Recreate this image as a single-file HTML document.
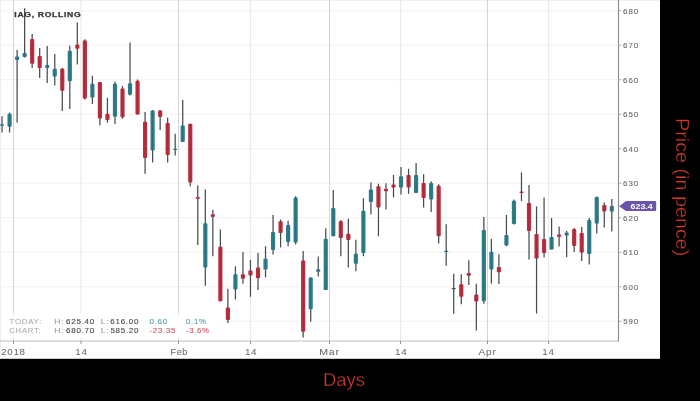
<!DOCTYPE html>
<html><head><meta charset="utf-8">
<style>
html,body{margin:0;padding:0;background:#000;width:700px;height:401px;overflow:hidden}
svg{display:block;font-family:"Liberation Sans",sans-serif}
text{-webkit-font-smoothing:antialiased}
body{will-change:transform}
</style></head>
<body>
<svg width="700" height="401" viewBox="0 0 700 401">
<rect x="0" y="0" width="700" height="401" fill="#000"/>
<rect x="0" y="0" width="660" height="358.8" fill="#fff"/>
<line x1="0" y1="0.5" x2="660" y2="0.5" stroke="#f0f0f0" stroke-width="1"/>
<line x1="0.5" y1="0" x2="0.5" y2="358.8" stroke="#ededed" stroke-width="1"/>
<line x1="0" y1="10.75" x2="618.5" y2="10.75" stroke="#f1f1f1" stroke-width="1.1"/>
<line x1="0" y1="45.25" x2="618.5" y2="45.25" stroke="#f1f1f1" stroke-width="1.1"/>
<line x1="0" y1="79.75" x2="618.5" y2="79.75" stroke="#f1f1f1" stroke-width="1.1"/>
<line x1="0" y1="114.25" x2="618.5" y2="114.25" stroke="#f1f1f1" stroke-width="1.1"/>
<line x1="0" y1="148.75" x2="618.5" y2="148.75" stroke="#f1f1f1" stroke-width="1.1"/>
<line x1="0" y1="183.25" x2="618.5" y2="183.25" stroke="#f1f1f1" stroke-width="1.1"/>
<line x1="0" y1="217.75" x2="618.5" y2="217.75" stroke="#f1f1f1" stroke-width="1.1"/>
<line x1="0" y1="252.25" x2="618.5" y2="252.25" stroke="#f1f1f1" stroke-width="1.1"/>
<line x1="0" y1="286.75" x2="618.5" y2="286.75" stroke="#f1f1f1" stroke-width="1.1"/>
<line x1="0" y1="321.25" x2="618.5" y2="321.25" stroke="#f1f1f1" stroke-width="1.1"/>
<line x1="13.5" y1="0" x2="13.5" y2="341" stroke="#d4d4d4" stroke-width="1"/>
<line x1="178.5" y1="0" x2="178.5" y2="341" stroke="#d4d4d4" stroke-width="1"/>
<line x1="329.5" y1="0" x2="329.5" y2="341" stroke="#d4d4d4" stroke-width="1"/>
<line x1="487.5" y1="0" x2="487.5" y2="341" stroke="#d4d4d4" stroke-width="1"/>
<line x1="81" y1="0" x2="81" y2="341" stroke="#eaeaea" stroke-width="1.1"/>
<line x1="250.5" y1="0" x2="250.5" y2="341" stroke="#eaeaea" stroke-width="1.1"/>
<line x1="400.5" y1="0" x2="400.5" y2="341" stroke="#eaeaea" stroke-width="1.1"/>
<line x1="548.5" y1="0" x2="548.5" y2="341" stroke="#eaeaea" stroke-width="1.1"/>
<rect x="14" y="6" width="66" height="14" fill="#fff"/>
<rect x="1" y="313.5" width="221" height="24" fill="#fff" fill-opacity="0.88"/>
<line x1="2.05" y1="116.25" x2="2.05" y2="132.5" stroke="#454d50" stroke-width="1.25"/>
<rect x="-0.05" y="124.25" width="4.2" height="1.50" rx="0.9" fill="#2f7f8b"/>
<line x1="2.05" y1="124.25" x2="2.05" y2="125.75" stroke="#000" stroke-opacity="0.12" stroke-width="1"/>
<line x1="9.58" y1="112.5" x2="9.58" y2="132.5" stroke="#454d50" stroke-width="1.25"/>
<rect x="7.48" y="113.75" width="4.2" height="13.00" rx="0.9" fill="#2f7f8b"/>
<line x1="9.58" y1="113.75" x2="9.58" y2="126.75" stroke="#000" stroke-opacity="0.12" stroke-width="1"/>
<line x1="17.11" y1="50.0" x2="17.11" y2="122.5" stroke="#454d50" stroke-width="1.25"/>
<rect x="15.01" y="56.5" width="4.2" height="3.50" rx="0.9" fill="#2f7f8b"/>
<line x1="17.11" y1="56.5" x2="17.11" y2="60.00" stroke="#000" stroke-opacity="0.12" stroke-width="1"/>
<line x1="24.63" y1="8.2" x2="24.63" y2="57.5" stroke="#454d50" stroke-width="1.25"/>
<rect x="22.53" y="53.0" width="4.2" height="4.00" rx="0.9" fill="#2f7f8b"/>
<line x1="24.63" y1="53.0" x2="24.63" y2="57.00" stroke="#000" stroke-opacity="0.12" stroke-width="1"/>
<line x1="32.16" y1="34.0" x2="32.16" y2="68.0" stroke="#454d50" stroke-width="1.25"/>
<rect x="30.06" y="39.0" width="4.2" height="24.75" rx="0.9" fill="#bb2f40"/>
<line x1="32.16" y1="39.0" x2="32.16" y2="63.75" stroke="#000" stroke-opacity="0.12" stroke-width="1"/>
<line x1="39.69" y1="48.0" x2="39.69" y2="78.0" stroke="#454d50" stroke-width="1.25"/>
<rect x="37.59" y="56.0" width="4.2" height="12.00" rx="0.9" fill="#bb2f40"/>
<line x1="39.69" y1="56.0" x2="39.69" y2="68.00" stroke="#000" stroke-opacity="0.12" stroke-width="1"/>
<line x1="47.22" y1="46.0" x2="47.22" y2="83.0" stroke="#454d50" stroke-width="1.25"/>
<rect x="45.12" y="65.0" width="4.2" height="3.00" rx="0.9" fill="#2f7f8b"/>
<line x1="47.22" y1="65.0" x2="47.22" y2="68.00" stroke="#000" stroke-opacity="0.12" stroke-width="1"/>
<line x1="54.75" y1="54.0" x2="54.75" y2="85.5" stroke="#454d50" stroke-width="1.25"/>
<rect x="52.65" y="68.75" width="4.2" height="7.75" rx="0.9" fill="#2f7f8b"/>
<line x1="54.75" y1="68.75" x2="54.75" y2="76.50" stroke="#000" stroke-opacity="0.12" stroke-width="1"/>
<line x1="62.27" y1="68.0" x2="62.27" y2="111.0" stroke="#454d50" stroke-width="1.25"/>
<rect x="60.17" y="68.75" width="4.2" height="22.00" rx="0.9" fill="#bb2f40"/>
<line x1="62.27" y1="68.75" x2="62.27" y2="90.75" stroke="#000" stroke-opacity="0.12" stroke-width="1"/>
<line x1="69.80" y1="45.75" x2="69.80" y2="109.0" stroke="#454d50" stroke-width="1.25"/>
<rect x="67.70" y="50.75" width="4.2" height="30.50" rx="0.9" fill="#2f7f8b"/>
<line x1="69.80" y1="50.75" x2="69.80" y2="81.25" stroke="#000" stroke-opacity="0.12" stroke-width="1"/>
<line x1="77.33" y1="22.6" x2="77.33" y2="64.5" stroke="#454d50" stroke-width="1.25"/>
<rect x="75.23" y="44.5" width="4.2" height="4.25" rx="0.9" fill="#bb2f40"/>
<line x1="77.33" y1="44.5" x2="77.33" y2="48.75" stroke="#000" stroke-opacity="0.12" stroke-width="1"/>
<line x1="84.86" y1="39.25" x2="84.86" y2="99.75" stroke="#454d50" stroke-width="1.25"/>
<rect x="82.76" y="40.5" width="4.2" height="58.00" rx="0.9" fill="#bb2f40"/>
<line x1="84.86" y1="40.5" x2="84.86" y2="98.50" stroke="#000" stroke-opacity="0.12" stroke-width="1"/>
<line x1="92.39" y1="75.75" x2="92.39" y2="104.0" stroke="#454d50" stroke-width="1.25"/>
<rect x="90.29" y="83.75" width="4.2" height="13.75" rx="0.9" fill="#2f7f8b"/>
<line x1="92.39" y1="83.75" x2="92.39" y2="97.50" stroke="#000" stroke-opacity="0.12" stroke-width="1"/>
<line x1="99.91" y1="82.0" x2="99.91" y2="125.25" stroke="#454d50" stroke-width="1.25"/>
<rect x="97.81" y="82.0" width="4.2" height="36.50" rx="0.9" fill="#bb2f40"/>
<line x1="99.91" y1="82.0" x2="99.91" y2="118.50" stroke="#000" stroke-opacity="0.12" stroke-width="1"/>
<line x1="107.44" y1="97.75" x2="107.44" y2="122.75" stroke="#454d50" stroke-width="1.25"/>
<rect x="105.34" y="113.75" width="4.2" height="6.25" rx="0.9" fill="#bb2f40"/>
<line x1="107.44" y1="113.75" x2="107.44" y2="120.00" stroke="#000" stroke-opacity="0.12" stroke-width="1"/>
<line x1="114.97" y1="81.5" x2="114.97" y2="124.0" stroke="#454d50" stroke-width="1.25"/>
<rect x="112.87" y="83.75" width="4.2" height="33.00" rx="0.9" fill="#2f7f8b"/>
<line x1="114.97" y1="83.75" x2="114.97" y2="116.75" stroke="#000" stroke-opacity="0.12" stroke-width="1"/>
<line x1="122.50" y1="86.0" x2="122.50" y2="118.75" stroke="#454d50" stroke-width="1.25"/>
<rect x="120.40" y="88.5" width="4.2" height="28.75" rx="0.9" fill="#bb2f40"/>
<line x1="122.50" y1="88.5" x2="122.50" y2="117.25" stroke="#000" stroke-opacity="0.12" stroke-width="1"/>
<line x1="130.03" y1="42.5" x2="130.03" y2="95.5" stroke="#454d50" stroke-width="1.25"/>
<rect x="127.93" y="83.25" width="4.2" height="11.50" rx="0.9" fill="#2f7f8b"/>
<line x1="130.03" y1="83.25" x2="130.03" y2="94.75" stroke="#000" stroke-opacity="0.12" stroke-width="1"/>
<line x1="137.55" y1="79.5" x2="137.55" y2="114.5" stroke="#454d50" stroke-width="1.25"/>
<rect x="135.45" y="80.75" width="4.2" height="33.75" rx="0.9" fill="#bb2f40"/>
<line x1="137.55" y1="80.75" x2="137.55" y2="114.50" stroke="#000" stroke-opacity="0.12" stroke-width="1"/>
<line x1="145.08" y1="112.0" x2="145.08" y2="173.75" stroke="#454d50" stroke-width="1.25"/>
<rect x="142.98" y="121.75" width="4.2" height="36.25" rx="0.9" fill="#bb2f40"/>
<line x1="145.08" y1="121.75" x2="145.08" y2="158.00" stroke="#000" stroke-opacity="0.12" stroke-width="1"/>
<line x1="152.61" y1="110.0" x2="152.61" y2="162.5" stroke="#454d50" stroke-width="1.25"/>
<rect x="150.51" y="110.5" width="4.2" height="40.00" rx="0.9" fill="#2f7f8b"/>
<line x1="152.61" y1="110.5" x2="152.61" y2="150.50" stroke="#000" stroke-opacity="0.12" stroke-width="1"/>
<line x1="160.14" y1="110.0" x2="160.14" y2="130.0" stroke="#454d50" stroke-width="1.25"/>
<rect x="158.04" y="110.5" width="4.2" height="6.50" rx="0.9" fill="#bb2f40"/>
<line x1="160.14" y1="110.5" x2="160.14" y2="117.00" stroke="#000" stroke-opacity="0.12" stroke-width="1"/>
<line x1="167.67" y1="117.5" x2="167.67" y2="162.5" stroke="#454d50" stroke-width="1.25"/>
<rect x="165.57" y="123.0" width="4.2" height="32.00" rx="0.9" fill="#bb2f40"/>
<line x1="167.67" y1="123.0" x2="167.67" y2="155.00" stroke="#000" stroke-opacity="0.12" stroke-width="1"/>
<line x1="175.19" y1="133.75" x2="175.19" y2="155.5" stroke="#454d50" stroke-width="1.25"/>
<rect x="173.09" y="148.75" width="4.2" height="1.25" rx="0.9" fill="#2f7f8b"/>
<line x1="175.19" y1="148.75" x2="175.19" y2="150.00" stroke="#000" stroke-opacity="0.12" stroke-width="1"/>
<line x1="182.72" y1="100.0" x2="182.72" y2="142.0" stroke="#454d50" stroke-width="1.25"/>
<rect x="180.62" y="125.5" width="4.2" height="16.50" rx="0.9" fill="#2f7f8b"/>
<line x1="182.72" y1="125.5" x2="182.72" y2="142.00" stroke="#000" stroke-opacity="0.12" stroke-width="1"/>
<line x1="190.25" y1="123.75" x2="190.25" y2="186.25" stroke="#454d50" stroke-width="1.25"/>
<rect x="188.15" y="123.75" width="4.2" height="58.75" rx="0.9" fill="#bb2f40"/>
<line x1="190.25" y1="123.75" x2="190.25" y2="182.50" stroke="#000" stroke-opacity="0.12" stroke-width="1"/>
<line x1="197.78" y1="185.5" x2="197.78" y2="245.0" stroke="#454d50" stroke-width="1.25"/>
<rect x="195.68" y="197.0" width="4.2" height="1.75" rx="0.9" fill="#bb2f40"/>
<line x1="197.78" y1="197.0" x2="197.78" y2="198.75" stroke="#000" stroke-opacity="0.12" stroke-width="1"/>
<line x1="205.31" y1="189.5" x2="205.31" y2="285.75" stroke="#454d50" stroke-width="1.25"/>
<rect x="203.21" y="223.25" width="4.2" height="44.25" rx="0.9" fill="#2f7f8b"/>
<line x1="205.31" y1="223.25" x2="205.31" y2="267.50" stroke="#000" stroke-opacity="0.12" stroke-width="1"/>
<line x1="212.83" y1="210.0" x2="212.83" y2="256.25" stroke="#454d50" stroke-width="1.25"/>
<rect x="210.73" y="214.25" width="4.2" height="2.75" rx="0.9" fill="#bb2f40"/>
<line x1="212.83" y1="214.25" x2="212.83" y2="217.00" stroke="#000" stroke-opacity="0.12" stroke-width="1"/>
<line x1="220.36" y1="229.5" x2="220.36" y2="301.25" stroke="#454d50" stroke-width="1.25"/>
<rect x="218.26" y="246.75" width="4.2" height="54.50" rx="0.9" fill="#bb2f40"/>
<line x1="220.36" y1="246.75" x2="220.36" y2="301.25" stroke="#000" stroke-opacity="0.12" stroke-width="1"/>
<line x1="227.89" y1="288.75" x2="227.89" y2="323.0" stroke="#454d50" stroke-width="1.25"/>
<rect x="225.79" y="307.5" width="4.2" height="12.50" rx="0.9" fill="#bb2f40"/>
<line x1="227.89" y1="307.5" x2="227.89" y2="320.00" stroke="#000" stroke-opacity="0.12" stroke-width="1"/>
<line x1="235.42" y1="266.25" x2="235.42" y2="299.5" stroke="#454d50" stroke-width="1.25"/>
<rect x="233.32" y="274.25" width="4.2" height="15.25" rx="0.9" fill="#2f7f8b"/>
<line x1="235.42" y1="274.25" x2="235.42" y2="289.50" stroke="#000" stroke-opacity="0.12" stroke-width="1"/>
<line x1="242.95" y1="252.0" x2="242.95" y2="283.75" stroke="#454d50" stroke-width="1.25"/>
<rect x="240.85" y="274.25" width="4.2" height="4.50" rx="0.9" fill="#bb2f40"/>
<line x1="242.95" y1="274.25" x2="242.95" y2="278.75" stroke="#000" stroke-opacity="0.12" stroke-width="1"/>
<line x1="250.47" y1="260.0" x2="250.47" y2="296.75" stroke="#454d50" stroke-width="1.25"/>
<rect x="248.37" y="270.5" width="4.2" height="5.00" rx="0.9" fill="#bb2f40"/>
<line x1="250.47" y1="270.5" x2="250.47" y2="275.50" stroke="#000" stroke-opacity="0.12" stroke-width="1"/>
<line x1="258.00" y1="253.0" x2="258.00" y2="290.0" stroke="#454d50" stroke-width="1.25"/>
<rect x="255.90" y="267.5" width="4.2" height="10.75" rx="0.9" fill="#bb2f40"/>
<line x1="258.00" y1="267.5" x2="258.00" y2="278.25" stroke="#000" stroke-opacity="0.12" stroke-width="1"/>
<line x1="265.53" y1="246.25" x2="265.53" y2="277.5" stroke="#454d50" stroke-width="1.25"/>
<rect x="263.43" y="258.75" width="4.2" height="10.75" rx="0.9" fill="#2f7f8b"/>
<line x1="265.53" y1="258.75" x2="265.53" y2="269.50" stroke="#000" stroke-opacity="0.12" stroke-width="1"/>
<line x1="273.06" y1="215.0" x2="273.06" y2="254.5" stroke="#454d50" stroke-width="1.25"/>
<rect x="270.96" y="232.0" width="4.2" height="18.00" rx="0.9" fill="#2f7f8b"/>
<line x1="273.06" y1="232.0" x2="273.06" y2="250.00" stroke="#000" stroke-opacity="0.12" stroke-width="1"/>
<line x1="280.59" y1="219.5" x2="280.59" y2="247.5" stroke="#454d50" stroke-width="1.25"/>
<rect x="278.49" y="221.25" width="4.2" height="11.75" rx="0.9" fill="#bb2f40"/>
<line x1="280.59" y1="221.25" x2="280.59" y2="233.00" stroke="#000" stroke-opacity="0.12" stroke-width="1"/>
<line x1="288.11" y1="220.75" x2="288.11" y2="246.25" stroke="#454d50" stroke-width="1.25"/>
<rect x="286.01" y="225.0" width="4.2" height="17.00" rx="0.9" fill="#2f7f8b"/>
<line x1="288.11" y1="225.0" x2="288.11" y2="242.00" stroke="#000" stroke-opacity="0.12" stroke-width="1"/>
<line x1="295.64" y1="196.25" x2="295.64" y2="244.5" stroke="#454d50" stroke-width="1.25"/>
<rect x="293.54" y="197.5" width="4.2" height="45.00" rx="0.9" fill="#2f7f8b"/>
<line x1="295.64" y1="197.5" x2="295.64" y2="242.50" stroke="#000" stroke-opacity="0.12" stroke-width="1"/>
<line x1="303.17" y1="251.0" x2="303.17" y2="337.5" stroke="#454d50" stroke-width="1.25"/>
<rect x="301.07" y="260.5" width="4.2" height="71.25" rx="0.9" fill="#bb2f40"/>
<line x1="303.17" y1="260.5" x2="303.17" y2="331.75" stroke="#000" stroke-opacity="0.12" stroke-width="1"/>
<line x1="310.70" y1="277.5" x2="310.70" y2="321.75" stroke="#454d50" stroke-width="1.25"/>
<rect x="308.60" y="277.5" width="4.2" height="31.75" rx="0.9" fill="#2f7f8b"/>
<line x1="310.70" y1="277.5" x2="310.70" y2="309.25" stroke="#000" stroke-opacity="0.12" stroke-width="1"/>
<line x1="318.23" y1="256.5" x2="318.23" y2="276.5" stroke="#454d50" stroke-width="1.25"/>
<rect x="316.13" y="269.25" width="4.2" height="2.50" rx="0.9" fill="#2f7f8b"/>
<line x1="318.23" y1="269.25" x2="318.23" y2="271.75" stroke="#000" stroke-opacity="0.12" stroke-width="1"/>
<line x1="325.75" y1="228.25" x2="325.75" y2="290.0" stroke="#454d50" stroke-width="1.25"/>
<rect x="323.65" y="238.75" width="4.2" height="51.25" rx="0.9" fill="#2f7f8b"/>
<line x1="325.75" y1="238.75" x2="325.75" y2="290.00" stroke="#000" stroke-opacity="0.12" stroke-width="1"/>
<line x1="333.28" y1="190.0" x2="333.28" y2="236.25" stroke="#454d50" stroke-width="1.25"/>
<rect x="331.18" y="208.0" width="4.2" height="28.25" rx="0.9" fill="#2f7f8b"/>
<line x1="333.28" y1="208.0" x2="333.28" y2="236.25" stroke="#000" stroke-opacity="0.12" stroke-width="1"/>
<line x1="340.81" y1="220.0" x2="340.81" y2="256.25" stroke="#454d50" stroke-width="1.25"/>
<rect x="338.71" y="221.25" width="4.2" height="16.75" rx="0.9" fill="#bb2f40"/>
<line x1="340.81" y1="221.25" x2="340.81" y2="238.00" stroke="#000" stroke-opacity="0.12" stroke-width="1"/>
<line x1="348.34" y1="218.75" x2="348.34" y2="267.5" stroke="#454d50" stroke-width="1.25"/>
<rect x="346.24" y="233.75" width="4.2" height="6.25" rx="0.9" fill="#bb2f40"/>
<line x1="348.34" y1="233.75" x2="348.34" y2="240.00" stroke="#000" stroke-opacity="0.12" stroke-width="1"/>
<line x1="355.87" y1="239.75" x2="355.87" y2="271.25" stroke="#454d50" stroke-width="1.25"/>
<rect x="353.77" y="253.75" width="4.2" height="10.00" rx="0.9" fill="#2f7f8b"/>
<line x1="355.87" y1="253.75" x2="355.87" y2="263.75" stroke="#000" stroke-opacity="0.12" stroke-width="1"/>
<line x1="363.39" y1="198.25" x2="363.39" y2="256.25" stroke="#454d50" stroke-width="1.25"/>
<rect x="361.29" y="210.75" width="4.2" height="42.25" rx="0.9" fill="#2f7f8b"/>
<line x1="363.39" y1="210.75" x2="363.39" y2="253.00" stroke="#000" stroke-opacity="0.12" stroke-width="1"/>
<line x1="370.92" y1="182.5" x2="370.92" y2="214.5" stroke="#454d50" stroke-width="1.25"/>
<rect x="368.82" y="189.5" width="4.2" height="12.50" rx="0.9" fill="#2f7f8b"/>
<line x1="370.92" y1="189.5" x2="370.92" y2="202.00" stroke="#000" stroke-opacity="0.12" stroke-width="1"/>
<line x1="378.45" y1="183.75" x2="378.45" y2="236.25" stroke="#454d50" stroke-width="1.25"/>
<rect x="376.35" y="186.25" width="4.2" height="21.25" rx="0.9" fill="#bb2f40"/>
<line x1="378.45" y1="186.25" x2="378.45" y2="207.50" stroke="#000" stroke-opacity="0.12" stroke-width="1"/>
<line x1="385.98" y1="183.25" x2="385.98" y2="209.5" stroke="#454d50" stroke-width="1.25"/>
<rect x="383.88" y="188.75" width="4.2" height="2.50" rx="0.9" fill="#bb2f40"/>
<line x1="385.98" y1="188.75" x2="385.98" y2="191.25" stroke="#000" stroke-opacity="0.12" stroke-width="1"/>
<line x1="393.51" y1="175.0" x2="393.51" y2="197.5" stroke="#454d50" stroke-width="1.25"/>
<rect x="391.41" y="184.5" width="4.2" height="3.00" rx="0.9" fill="#bb2f40"/>
<line x1="393.51" y1="184.5" x2="393.51" y2="187.50" stroke="#000" stroke-opacity="0.12" stroke-width="1"/>
<line x1="401.03" y1="167.0" x2="401.03" y2="194.5" stroke="#454d50" stroke-width="1.25"/>
<rect x="398.93" y="176.25" width="4.2" height="11.25" rx="0.9" fill="#2f7f8b"/>
<line x1="401.03" y1="176.25" x2="401.03" y2="187.50" stroke="#000" stroke-opacity="0.12" stroke-width="1"/>
<line x1="408.56" y1="168.75" x2="408.56" y2="193.75" stroke="#454d50" stroke-width="1.25"/>
<rect x="406.46" y="175.0" width="4.2" height="12.50" rx="0.9" fill="#bb2f40"/>
<line x1="408.56" y1="175.0" x2="408.56" y2="187.50" stroke="#000" stroke-opacity="0.12" stroke-width="1"/>
<line x1="416.09" y1="163.0" x2="416.09" y2="193.0" stroke="#454d50" stroke-width="1.25"/>
<rect x="413.99" y="175.0" width="4.2" height="18.00" rx="0.9" fill="#2f7f8b"/>
<line x1="416.09" y1="175.0" x2="416.09" y2="193.00" stroke="#000" stroke-opacity="0.12" stroke-width="1"/>
<line x1="423.62" y1="174.25" x2="423.62" y2="207.5" stroke="#454d50" stroke-width="1.25"/>
<rect x="421.52" y="183.0" width="4.2" height="15.00" rx="0.9" fill="#bb2f40"/>
<line x1="423.62" y1="183.0" x2="423.62" y2="198.00" stroke="#000" stroke-opacity="0.12" stroke-width="1"/>
<line x1="431.15" y1="181.25" x2="431.15" y2="212.0" stroke="#454d50" stroke-width="1.25"/>
<rect x="429.05" y="183.0" width="4.2" height="16.50" rx="0.9" fill="#2f7f8b"/>
<line x1="431.15" y1="183.0" x2="431.15" y2="199.50" stroke="#000" stroke-opacity="0.12" stroke-width="1"/>
<line x1="438.67" y1="184.25" x2="438.67" y2="243.5" stroke="#454d50" stroke-width="1.25"/>
<rect x="436.57" y="185.75" width="4.2" height="50.50" rx="0.9" fill="#bb2f40"/>
<line x1="438.67" y1="185.75" x2="438.67" y2="236.25" stroke="#000" stroke-opacity="0.12" stroke-width="1"/>
<line x1="446.20" y1="224.25" x2="446.20" y2="265.75" stroke="#454d50" stroke-width="1.25"/>
<rect x="444.10" y="250.75" width="4.2" height="1.25" rx="0.9" fill="#2f7f8b"/>
<line x1="446.20" y1="250.75" x2="446.20" y2="252.00" stroke="#000" stroke-opacity="0.12" stroke-width="1"/>
<line x1="453.73" y1="273.75" x2="453.73" y2="313.75" stroke="#454d50" stroke-width="1.25"/>
<rect x="451.63" y="288.0" width="4.2" height="1.20" rx="0.9" fill="#454d50"/>
<line x1="453.73" y1="288.0" x2="453.73" y2="289.20" stroke="#000" stroke-opacity="0.12" stroke-width="1"/>
<line x1="461.26" y1="274.25" x2="461.26" y2="304.25" stroke="#454d50" stroke-width="1.25"/>
<rect x="459.16" y="284.25" width="4.2" height="12.50" rx="0.9" fill="#bb2f40"/>
<line x1="461.26" y1="284.25" x2="461.26" y2="296.75" stroke="#000" stroke-opacity="0.12" stroke-width="1"/>
<line x1="468.79" y1="260.25" x2="468.79" y2="285.0" stroke="#454d50" stroke-width="1.25"/>
<rect x="466.69" y="273.0" width="4.2" height="2.75" rx="0.9" fill="#bb2f40"/>
<line x1="468.79" y1="273.0" x2="468.79" y2="275.75" stroke="#000" stroke-opacity="0.12" stroke-width="1"/>
<line x1="476.31" y1="283.75" x2="476.31" y2="330.5" stroke="#454d50" stroke-width="1.25"/>
<rect x="474.21" y="294.5" width="4.2" height="7.00" rx="0.9" fill="#bb2f40"/>
<line x1="476.31" y1="294.5" x2="476.31" y2="301.50" stroke="#000" stroke-opacity="0.12" stroke-width="1"/>
<line x1="483.84" y1="217.0" x2="483.84" y2="303.75" stroke="#454d50" stroke-width="1.25"/>
<rect x="481.74" y="230.0" width="4.2" height="71.25" rx="0.9" fill="#2f7f8b"/>
<line x1="483.84" y1="230.0" x2="483.84" y2="301.25" stroke="#000" stroke-opacity="0.12" stroke-width="1"/>
<line x1="491.37" y1="239.0" x2="491.37" y2="283.5" stroke="#454d50" stroke-width="1.25"/>
<rect x="489.27" y="251.75" width="4.2" height="17.75" rx="0.9" fill="#2f7f8b"/>
<line x1="491.37" y1="251.75" x2="491.37" y2="269.50" stroke="#000" stroke-opacity="0.12" stroke-width="1"/>
<line x1="498.90" y1="254.25" x2="498.90" y2="284.0" stroke="#454d50" stroke-width="1.25"/>
<rect x="496.80" y="267.0" width="4.2" height="5.25" rx="0.9" fill="#bb2f40"/>
<line x1="498.90" y1="267.0" x2="498.90" y2="272.25" stroke="#000" stroke-opacity="0.12" stroke-width="1"/>
<line x1="506.43" y1="215.0" x2="506.43" y2="246.25" stroke="#454d50" stroke-width="1.25"/>
<rect x="504.33" y="235.0" width="4.2" height="10.50" rx="0.9" fill="#2f7f8b"/>
<line x1="506.43" y1="235.0" x2="506.43" y2="245.50" stroke="#000" stroke-opacity="0.12" stroke-width="1"/>
<line x1="513.95" y1="199.6" x2="513.95" y2="224.4" stroke="#454d50" stroke-width="1.25"/>
<rect x="511.85" y="200.75" width="4.2" height="23.25" rx="0.9" fill="#2f7f8b"/>
<line x1="513.95" y1="200.75" x2="513.95" y2="224.00" stroke="#000" stroke-opacity="0.12" stroke-width="1"/>
<line x1="521.48" y1="172.4" x2="521.48" y2="201.0" stroke="#454d50" stroke-width="1.25"/>
<rect x="519.38" y="191.4" width="4.2" height="1.60" rx="0.9" fill="#bb2f40"/>
<line x1="521.48" y1="191.4" x2="521.48" y2="193.00" stroke="#000" stroke-opacity="0.12" stroke-width="1"/>
<line x1="529.01" y1="185.0" x2="529.01" y2="259.6" stroke="#454d50" stroke-width="1.25"/>
<rect x="526.91" y="203.0" width="4.2" height="28.00" rx="0.9" fill="#bb2f40"/>
<line x1="529.01" y1="203.0" x2="529.01" y2="231.00" stroke="#000" stroke-opacity="0.12" stroke-width="1"/>
<line x1="536.54" y1="206.4" x2="536.54" y2="313.5" stroke="#454d50" stroke-width="1.25"/>
<rect x="534.44" y="234.0" width="4.2" height="24.60" rx="0.9" fill="#bb2f40"/>
<line x1="536.54" y1="234.0" x2="536.54" y2="258.60" stroke="#000" stroke-opacity="0.12" stroke-width="1"/>
<line x1="544.07" y1="197.6" x2="544.07" y2="257.6" stroke="#454d50" stroke-width="1.25"/>
<rect x="541.97" y="239.0" width="4.2" height="14.00" rx="0.9" fill="#bb2f40"/>
<line x1="544.07" y1="239.0" x2="544.07" y2="253.00" stroke="#000" stroke-opacity="0.12" stroke-width="1"/>
<line x1="551.59" y1="218.0" x2="551.59" y2="249.6" stroke="#454d50" stroke-width="1.25"/>
<rect x="549.49" y="237.0" width="4.2" height="12.60" rx="0.9" fill="#2f7f8b"/>
<line x1="551.59" y1="237.0" x2="551.59" y2="249.60" stroke="#000" stroke-opacity="0.12" stroke-width="1"/>
<line x1="559.12" y1="226.4" x2="559.12" y2="246.4" stroke="#454d50" stroke-width="1.25"/>
<rect x="557.02" y="234.6" width="4.2" height="2.20" rx="0.9" fill="#bb2f40"/>
<line x1="559.12" y1="234.6" x2="559.12" y2="236.80" stroke="#000" stroke-opacity="0.12" stroke-width="1"/>
<line x1="566.65" y1="231.0" x2="566.65" y2="257.0" stroke="#454d50" stroke-width="1.25"/>
<rect x="564.55" y="232.5" width="4.2" height="3.10" rx="0.9" fill="#2f7f8b"/>
<line x1="566.65" y1="232.5" x2="566.65" y2="235.60" stroke="#000" stroke-opacity="0.12" stroke-width="1"/>
<line x1="574.18" y1="228.0" x2="574.18" y2="252.0" stroke="#454d50" stroke-width="1.25"/>
<rect x="572.08" y="229.0" width="4.2" height="17.00" rx="0.9" fill="#bb2f40"/>
<line x1="574.18" y1="229.0" x2="574.18" y2="246.00" stroke="#000" stroke-opacity="0.12" stroke-width="1"/>
<line x1="581.71" y1="227.0" x2="581.71" y2="261.0" stroke="#454d50" stroke-width="1.25"/>
<rect x="579.61" y="233.0" width="4.2" height="19.60" rx="0.9" fill="#bb2f40"/>
<line x1="581.71" y1="233.0" x2="581.71" y2="252.60" stroke="#000" stroke-opacity="0.12" stroke-width="1"/>
<line x1="589.23" y1="218.0" x2="589.23" y2="264.4" stroke="#454d50" stroke-width="1.25"/>
<rect x="587.13" y="220.0" width="4.2" height="34.00" rx="0.9" fill="#2f7f8b"/>
<line x1="589.23" y1="220.0" x2="589.23" y2="254.00" stroke="#000" stroke-opacity="0.12" stroke-width="1"/>
<line x1="596.76" y1="196.6" x2="596.76" y2="233.6" stroke="#454d50" stroke-width="1.25"/>
<rect x="594.66" y="197.0" width="4.2" height="26.60" rx="0.9" fill="#2f7f8b"/>
<line x1="596.76" y1="197.0" x2="596.76" y2="223.60" stroke="#000" stroke-opacity="0.12" stroke-width="1"/>
<line x1="604.29" y1="202.6" x2="604.29" y2="227.6" stroke="#454d50" stroke-width="1.25"/>
<rect x="602.19" y="205.0" width="4.2" height="6.40" rx="0.9" fill="#bb2f40"/>
<line x1="604.29" y1="205.0" x2="604.29" y2="211.40" stroke="#000" stroke-opacity="0.12" stroke-width="1"/>
<line x1="611.82" y1="199.0" x2="611.82" y2="231.4" stroke="#454d50" stroke-width="1.25"/>
<rect x="609.72" y="206.0" width="4.2" height="5.60" rx="0.9" fill="#2f7f8b"/>
<line x1="611.82" y1="206.0" x2="611.82" y2="211.60" stroke="#000" stroke-opacity="0.12" stroke-width="1"/>
<line x1="0" y1="341" x2="618.5" y2="341" stroke="#bdbdbd" stroke-width="1.2"/>
<line x1="618.5" y1="0" x2="618.5" y2="341.6" stroke="#8a8a8a" stroke-width="1.1"/>
<line x1="618.5" y1="10.75" x2="621.5" y2="10.75" stroke="#999" stroke-width="0.8"/>
<line x1="618.5" y1="45.25" x2="621.5" y2="45.25" stroke="#999" stroke-width="0.8"/>
<line x1="618.5" y1="79.75" x2="621.5" y2="79.75" stroke="#999" stroke-width="0.8"/>
<line x1="618.5" y1="114.25" x2="621.5" y2="114.25" stroke="#999" stroke-width="0.8"/>
<line x1="618.5" y1="148.75" x2="621.5" y2="148.75" stroke="#999" stroke-width="0.8"/>
<line x1="618.5" y1="183.25" x2="621.5" y2="183.25" stroke="#999" stroke-width="0.8"/>
<line x1="618.5" y1="217.75" x2="621.5" y2="217.75" stroke="#999" stroke-width="0.8"/>
<line x1="618.5" y1="252.25" x2="621.5" y2="252.25" stroke="#999" stroke-width="0.8"/>
<line x1="618.5" y1="286.75" x2="621.5" y2="286.75" stroke="#999" stroke-width="0.8"/>
<line x1="618.5" y1="321.25" x2="621.5" y2="321.25" stroke="#999" stroke-width="0.8"/>
<line x1="13.5" y1="341" x2="13.5" y2="344" stroke="#777" stroke-width="0.8"/>
<line x1="178.5" y1="341" x2="178.5" y2="344" stroke="#777" stroke-width="0.8"/>
<line x1="329.5" y1="341" x2="329.5" y2="344" stroke="#777" stroke-width="0.8"/>
<line x1="487.5" y1="341" x2="487.5" y2="344" stroke="#777" stroke-width="0.8"/>
<line x1="81" y1="341" x2="81" y2="344" stroke="#777" stroke-width="0.8"/>
<line x1="250.5" y1="341" x2="250.5" y2="344" stroke="#777" stroke-width="0.8"/>
<line x1="400.5" y1="341" x2="400.5" y2="344" stroke="#777" stroke-width="0.8"/>
<line x1="548.5" y1="341" x2="548.5" y2="344" stroke="#777" stroke-width="0.8"/>
<text x="623.09" y="13.85" textLength="16.01" lengthAdjust="spacingAndGlyphs" style="font-size:6.3px;fill:#6b6b6b;stroke:#6b6b6b;stroke-width:0.12px;letter-spacing:0.7px" >680</text>
<text x="623.09" y="48.35" textLength="16.01" lengthAdjust="spacingAndGlyphs" style="font-size:6.3px;fill:#6b6b6b;stroke:#6b6b6b;stroke-width:0.12px;letter-spacing:0.7px" >670</text>
<text x="623.09" y="82.85" textLength="16.01" lengthAdjust="spacingAndGlyphs" style="font-size:6.3px;fill:#6b6b6b;stroke:#6b6b6b;stroke-width:0.12px;letter-spacing:0.7px" >660</text>
<text x="623.09" y="117.35" textLength="16.01" lengthAdjust="spacingAndGlyphs" style="font-size:6.3px;fill:#6b6b6b;stroke:#6b6b6b;stroke-width:0.12px;letter-spacing:0.7px" >650</text>
<text x="623.09" y="151.85" textLength="16.01" lengthAdjust="spacingAndGlyphs" style="font-size:6.3px;fill:#6b6b6b;stroke:#6b6b6b;stroke-width:0.12px;letter-spacing:0.7px" >640</text>
<text x="623.09" y="186.35" textLength="16.01" lengthAdjust="spacingAndGlyphs" style="font-size:6.3px;fill:#6b6b6b;stroke:#6b6b6b;stroke-width:0.12px;letter-spacing:0.7px" >630</text>
<text x="623.09" y="220.85" textLength="16.01" lengthAdjust="spacingAndGlyphs" style="font-size:6.3px;fill:#6b6b6b;stroke:#6b6b6b;stroke-width:0.12px;letter-spacing:0.7px" >620</text>
<text x="623.09" y="255.35" textLength="16.01" lengthAdjust="spacingAndGlyphs" style="font-size:6.3px;fill:#6b6b6b;stroke:#6b6b6b;stroke-width:0.12px;letter-spacing:0.7px" >610</text>
<text x="623.09" y="289.85" textLength="16.01" lengthAdjust="spacingAndGlyphs" style="font-size:6.3px;fill:#6b6b6b;stroke:#6b6b6b;stroke-width:0.12px;letter-spacing:0.7px" >600</text>
<text x="623.18" y="324.35" textLength="15.91" lengthAdjust="spacingAndGlyphs" style="font-size:6.3px;fill:#6b6b6b;stroke:#6b6b6b;stroke-width:0.12px;letter-spacing:0.7px" >590</text>
<text x="1.21" y="354.60" textLength="24.53" lengthAdjust="spacingAndGlyphs" style="font-size:8.2px;fill:#6b6b6b;stroke:#6b6b6b;stroke-width:0.05px;letter-spacing:0.6px" >2018</text>
<text x="75.20" y="354.60" textLength="12.47" lengthAdjust="spacingAndGlyphs" style="font-size:8.2px;fill:#6b6b6b;stroke:#6b6b6b;stroke-width:0.05px;letter-spacing:0.6px" >14</text>
<text x="170.48" y="354.60" textLength="17.53" lengthAdjust="spacingAndGlyphs" style="font-size:8.2px;fill:#6b6b6b;stroke:#6b6b6b;stroke-width:0.05px;letter-spacing:0.6px" >Feb</text>
<text x="244.90" y="354.60" textLength="12.47" lengthAdjust="spacingAndGlyphs" style="font-size:8.2px;fill:#6b6b6b;stroke:#6b6b6b;stroke-width:0.05px;letter-spacing:0.6px" >14</text>
<text x="319.16" y="354.60" textLength="20.57" lengthAdjust="spacingAndGlyphs" style="font-size:8.2px;fill:#6b6b6b;stroke:#6b6b6b;stroke-width:0.05px;letter-spacing:0.6px" >Mar</text>
<text x="394.95" y="354.60" textLength="12.47" lengthAdjust="spacingAndGlyphs" style="font-size:8.2px;fill:#6b6b6b;stroke:#6b6b6b;stroke-width:0.05px;letter-spacing:0.6px" >14</text>
<text x="478.53" y="354.60" textLength="18.03" lengthAdjust="spacingAndGlyphs" style="font-size:8.2px;fill:#6b6b6b;stroke:#6b6b6b;stroke-width:0.05px;letter-spacing:0.6px" >Apr</text>
<text x="542.20" y="354.60" textLength="12.47" lengthAdjust="spacingAndGlyphs" style="font-size:8.2px;fill:#6b6b6b;stroke:#6b6b6b;stroke-width:0.05px;letter-spacing:0.6px" >14</text>
<text x="14.32" y="16.90" textLength="66.99" lengthAdjust="spacingAndGlyphs" style="font-size:6.9px;font-weight:bold;fill:#333;stroke:#333;stroke-width:0.25px;letter-spacing:0.55px" >IAG, ROLLING</text>
<text x="9.53" y="324.00" textLength="32.55" lengthAdjust="spacingAndGlyphs" style="font-size:6.7px;fill:#b0b0b0;stroke:#b0b0b0;stroke-width:0.12px;letter-spacing:0.6px" >TODAY:</text>
<text x="54.29" y="324.00" textLength="10.17" lengthAdjust="spacingAndGlyphs" style="font-size:6.7px;fill:#a0a0a0;stroke:#a0a0a0;stroke-width:0.12px;letter-spacing:0.6px" >H:</text>
<text x="65.99" y="324.00" textLength="29.05" lengthAdjust="spacingAndGlyphs" style="font-size:6.7px;fill:#4a4a4a;stroke:#4a4a4a;stroke-width:0.12px;letter-spacing:0.6px" >625.40</text>
<text x="100.81" y="324.00" textLength="8.51" lengthAdjust="spacingAndGlyphs" style="font-size:6.7px;fill:#a0a0a0;stroke:#a0a0a0;stroke-width:0.12px;letter-spacing:0.6px" >L:</text>
<text x="110.39" y="324.00" textLength="28.73" lengthAdjust="spacingAndGlyphs" style="font-size:6.7px;fill:#4a4a4a;stroke:#4a4a4a;stroke-width:0.12px;letter-spacing:0.6px" >616.00</text>
<text x="149.49" y="324.00" textLength="18.44" lengthAdjust="spacingAndGlyphs" style="font-size:6.7px;fill:#56a2b3;stroke:#56a2b3;stroke-width:0.12px;letter-spacing:0.6px" >0.60</text>
<text x="185.99" y="324.00" textLength="20.80" lengthAdjust="spacingAndGlyphs" style="font-size:6.7px;fill:#56a2b3;stroke:#56a2b3;stroke-width:0.12px;letter-spacing:0.6px" >0.1%</text>
<text x="9.32" y="332.90" textLength="32.04" lengthAdjust="spacingAndGlyphs" style="font-size:6.7px;fill:#b0b0b0;stroke:#b0b0b0;stroke-width:0.12px;letter-spacing:0.6px" >CHART:</text>
<text x="54.29" y="332.90" textLength="10.17" lengthAdjust="spacingAndGlyphs" style="font-size:6.7px;fill:#a0a0a0;stroke:#a0a0a0;stroke-width:0.12px;letter-spacing:0.6px" >H:</text>
<text x="65.99" y="332.90" textLength="29.05" lengthAdjust="spacingAndGlyphs" style="font-size:6.7px;fill:#4a4a4a;stroke:#4a4a4a;stroke-width:0.12px;letter-spacing:0.6px" >680.70</text>
<text x="100.81" y="332.90" textLength="8.51" lengthAdjust="spacingAndGlyphs" style="font-size:6.7px;fill:#a0a0a0;stroke:#a0a0a0;stroke-width:0.12px;letter-spacing:0.6px" >L:</text>
<text x="110.48" y="332.90" textLength="28.64" lengthAdjust="spacingAndGlyphs" style="font-size:6.7px;fill:#4a4a4a;stroke:#4a4a4a;stroke-width:0.12px;letter-spacing:0.6px" >585.20</text>
<text x="149.45" y="332.90" textLength="26.80" lengthAdjust="spacingAndGlyphs" style="font-size:6.7px;fill:#d3596a;stroke:#d3596a;stroke-width:0.12px;letter-spacing:0.6px" >-23.35</text>
<text x="185.96" y="332.90" textLength="23.61" lengthAdjust="spacingAndGlyphs" style="font-size:6.7px;fill:#d3596a;stroke:#d3596a;stroke-width:0.12px;letter-spacing:0.6px" >-3.6%</text>
<path d="M619.1,206.3 L626,201.1 L655,201.1 Q656.2,201.1 656.2,202.3 L656.2,209.9 Q656.2,211.1 655,211.1 L626,211.1 Z" fill="#6a55a8"/>
<text x="630.58" y="208.90" textLength="22.07" lengthAdjust="spacingAndGlyphs" style="font-size:6.5px;font-weight:bold;fill:#fff;letter-spacing:0.0px" >623.4</text>
<text x="323.09" y="386.00" textLength="41.87" lengthAdjust="spacingAndGlyphs" style="font-size:18px;fill:#cc3a2e;letter-spacing:0.0px" stroke="#000" stroke-width="0.3">Days</text>
<text transform="translate(676,0) rotate(90)" x="117.98" y="0" textLength="138.45" lengthAdjust="spacingAndGlyphs" stroke="#000" stroke-width="0.3" style="font-size:18.6px;fill:#cc3a2e">Price (in pence)</text>
</svg>
</body></html>
